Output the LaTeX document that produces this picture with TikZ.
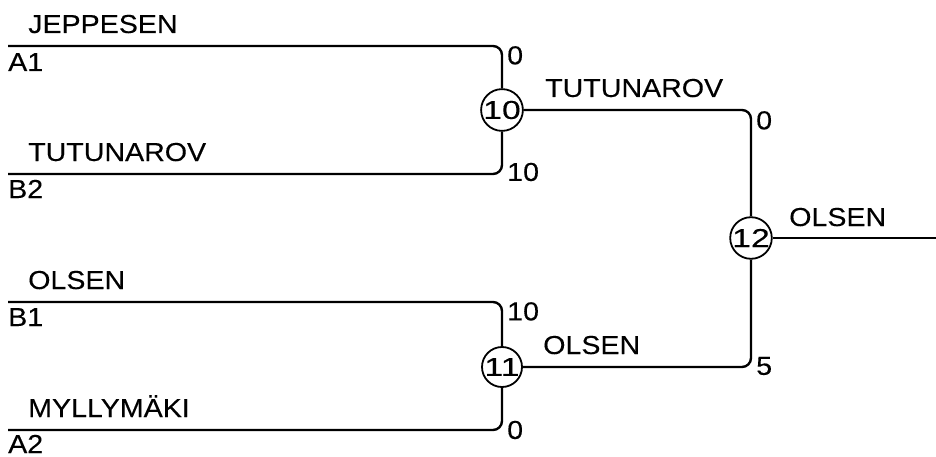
\documentclass[tikz,border=0pt]{standalone}
\usepackage{fontspec}
\setmainfont{Liberation Sans}[FakeStretch=1.1,FakeBold=0.2]
\newcommand{\lbl}{\fontsize{26}{28}\selectfont}
\newcommand{\wide}[1]{\scalebox{1.18}[1]{#1}}
\begin{document}
\begin{tikzpicture}[x=1pt,y=-1pt,
  wire/.style={line width=2.4pt,rounded corners=9pt},
  matchnode/.style={circle,draw,line width=1.8pt,minimum size=40pt,inner sep=0pt,font=\lbl},
  plabel/.style={anchor=base west,inner sep=0pt,font=\lbl},
  scorelbl/.style={inner sep=0pt,font=\lbl}]
\useasboundingbox (0,0) rectangle (936,457);
% match nodes
\node[matchnode] (c10) at (502,110) {\wide{10}};
\node[matchnode] (c11) at (502,367) {\wide{11}};
\node[matchnode] (c12) at (751,238) {\wide{12}};
% free ends
\coordinate (a1) at (8,46);
\coordinate (b2) at (8,174);
\coordinate (b1) at (8,302);
\coordinate (a2) at (8,430);
\coordinate (out) at (936,238);
% wires
\draw[wire] (a1) -| (c10.north);
\draw[wire] (b2) -| (c10.south);
\draw[wire] (b1) -| (c11.north);
\draw[wire] (a2) -| (c11.south);
\draw[wire] (c10.east) -| (c12.north);
\draw[wire] (c11.east) -| (c12.south);
\draw[wire,rounded corners=0pt] (c12.east) -- (out);
% player names
\node[plabel] (nA1) at (28,33) {JEPPESEN};
\node[plabel] (lA1) at (8,71) {A1};
\node[plabel] (nB2) at (28,161) {TUTUNAROV};
\node[plabel] (lB2) at (8,198) {B2};
\node[plabel] (nB1) at (28,289) {OLSEN};
\node[plabel] (lB1) at (8,326) {B1};
\node[plabel] (nA2) at (28,417) {MYLLYMÄKI};
\node[plabel] (lA2) at (8,453) {A2};
% winners
\node[plabel] (w10) at (545,97) {TUTUNAROV};
\node[plabel] (w11) at (543,354) {OLSEN};
\node[plabel] (w12) at (789,226) {OLSEN};
% scores
\node[scorelbl,anchor=north west] (s1) at (507,46) {0};
\node[scorelbl,anchor=west] (s2) at (507,172) {10};
\node[scorelbl,anchor=north west] (s3) at (507,302) {10};
\node[scorelbl,anchor=west] (s4) at (507,430) {0};
\node[scorelbl,anchor=north west] (s5) at (756,111) {0};
\node[scorelbl,anchor=west] (s6) at (756,366) {5};
\end{tikzpicture}
\end{document}
